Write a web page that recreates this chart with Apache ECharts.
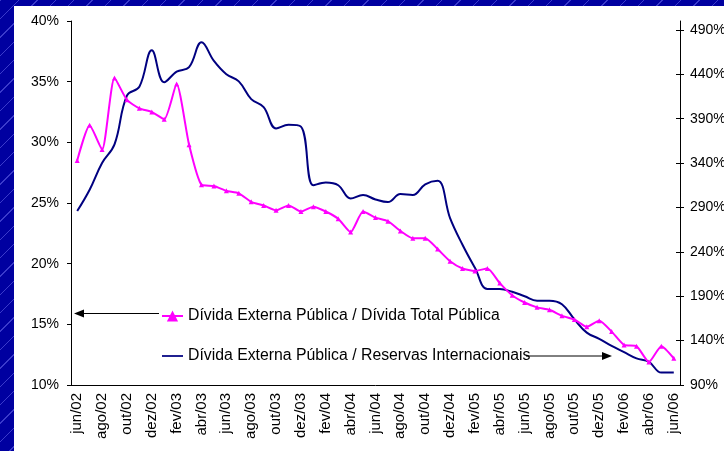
<!DOCTYPE html>
<html>
<head>
<meta charset="utf-8">
<script src="https://cdn.jsdelivr.net/npm/echarts@6/dist/echarts.min.js"></script>
<style>
  html, body { margin: 0; padding: 0; }
  #chart {
    width: 724px;
    height: 451px;
    background-color: #0000a0;
    background-image: repeating-linear-gradient(135deg, rgba(130,130,255,0.45) 0px, rgba(130,130,255,0.45) 1px, transparent 1px, transparent 13px);
  }
</style>
</head>
<body>
<div id="chart"></div>
<script>
// meses (jun/02 a jun/06)
const categories = [
  'jun/02', 'jul/02', 'ago/02', 'set/02', 'out/02', 'nov/02', 'dez/02',
  'jan/03', 'fev/03', 'mar/03', 'abr/03', 'mai/03', 'jun/03', 'jul/03', 'ago/03', 'set/03', 'out/03', 'nov/03', 'dez/03',
  'jan/04', 'fev/04', 'mar/04', 'abr/04', 'mai/04', 'jun/04', 'jul/04', 'ago/04', 'set/04', 'out/04', 'nov/04', 'dez/04',
  'jan/05', 'fev/05', 'mar/05', 'abr/05', 'mai/05', 'jun/05', 'jul/05', 'ago/05', 'set/05', 'out/05', 'nov/05', 'dez/05',
  'jan/06', 'fev/06', 'mar/06', 'abr/06', 'mai/06', 'jun/06'
];

// Dívida Externa Pública / Dívida Total Pública (%), eixo esquerdo
const dividaTotal = [
  28.5, 31.4, 29.4, 35.3, 33.5, 32.8, 32.5,
  31.9, 34.8, 29.8, 26.5, 26.4, 26.0, 25.8, 25.1, 24.8, 24.4, 24.8, 24.3,
  24.7, 24.3, 23.7, 22.6, 24.3, 23.8, 23.5, 22.7, 22.1, 22.1, 21.2, 20.2,
  19.6, 19.4, 19.6, 18.4, 17.4, 16.8, 16.4, 16.2, 15.7, 15.4, 14.8, 15.3,
  14.4, 13.3, 13.2, 11.9, 13.2, 12.2
];

// Dívida Externa Pública / Reservas Internacionais (%), eixo direito
const reservas = [
  286, 310, 340, 361, 416, 426, 467,
  431, 443, 448, 476, 455, 440, 432, 412, 403, 379, 383, 381,
  315, 318, 315, 300, 304, 299, 296, 305, 304, 316, 320, 278,
  248, 222, 198, 198, 195, 190, 185, 185, 181, 164, 149, 142,
  134, 127, 120, 116, 104, 104
];

const rightTicks = [90, 140, 190, 240, 290, 340, 390, 440, 490];

const chart = echarts.init(document.getElementById('chart'), null, { renderer: 'canvas' });

const font = 'Arial, "Liberation Sans", sans-serif';
const nomeTotal = 'Dívida Externa Pública / Dívida Total Pública';
const nomeReservas = 'Dívida Externa Pública / Reservas Internacionais';

const option = {
  backgroundColor: 'transparent',
  animation: false,
  textStyle: { fontFamily: font },
  grid: {
    left: 71,
    right: 44,
    top: 21,
    bottom: 66,
    containLabel: false,
    outerBoundsMode: 'none'
  },
  legend: {
    orient: 'vertical',
    left: 161,
    top: 308,
    padding: 0,
    itemWidth: 21,
    itemHeight: 14,
    itemGap: 24,
    textStyle: { fontSize: 15.8, color: '#000', fontFamily: font },
    data: [
      { name: nomeTotal },
      { name: nomeReservas, icon: 'path://M0,0H24V2H0Z' }
    ]
  },
  graphic: [
    {
      type: 'rect',
      z: -10,
      silent: true,
      shape: { x: 14, y: 6, width: 710, height: 445 },
      style: { fill: '#fff' }
    },
    {
      type: 'line',
      silent: true,
      shape: { x1: 80, y1: 313.5, x2: 159, y2: 313.5 },
      style: { stroke: '#000', lineWidth: 1 }
    },
    {
      type: 'polygon',
      silent: true,
      shape: { points: [[74, 313.5], [84, 309.5], [84, 317.5]] },
      style: { fill: '#000' }
    },
    {
      type: 'line',
      silent: true,
      shape: { x1: 526, y1: 356, x2: 606, y2: 356 },
      style: { stroke: '#000', lineWidth: 1 }
    },
    {
      type: 'polygon',
      silent: true,
      shape: { points: [[612, 356], [602, 352], [602, 360]] },
      style: { fill: '#000' }
    }
  ],
  xAxis: {
    type: 'category',
    data: categories,
    boundaryGap: true,
    axisLine: { lineStyle: { color: '#000', width: 1 } },
    axisTick: { interval: 1, length: 5, lineStyle: { color: '#000' } },
    axisLabel: {
      interval: 1,
      rotate: 90,
      margin: 8,
      fontSize: 15,
      color: '#000',
      fontFamily: font
    },
    splitLine: { show: false }
  },
  yAxis: [
    {
      type: 'value',
      position: 'left',
      min: 10,
      max: 40,
      interval: 5,
      axisLine: { show: true, lineStyle: { color: '#000' } },
      axisTick: { show: true, length: 4, lineStyle: { color: '#000' } },
      axisLabel: { formatter: '{value}%', fontSize: 14, color: '#000', margin: 12, fontFamily: font },
      splitLine: { show: false }
    },
    {
      type: 'value',
      position: 'right',
      min: 90,
      max: 500,
      axisLine: { show: true, lineStyle: { color: '#000' } },
      axisTick: { show: true, length: 4, customValues: rightTicks, lineStyle: { color: '#000' } },
      axisLabel: { customValues: rightTicks, formatter: '{value}%', fontSize: 14, color: '#000', margin: 10, fontFamily: font },
      splitLine: { show: false }
    },
    {
      // marcas internas do eixo direito (cruzadas)
      type: 'value',
      position: 'right',
      min: 90,
      max: 500,
      axisLine: { show: false },
      axisTick: { show: true, inside: true, length: 4, customValues: rightTicks, lineStyle: { color: '#000' } },
      axisLabel: { show: false },
      splitLine: { show: false }
    }
  ],
  series: [
    {
      name: nomeTotal,
      type: 'line',
      yAxisIndex: 0,
      data: dividaTotal,
      smooth: 0.2,
      symbol: 'triangle',
      symbolSize: 5,
      z: 3,
      itemStyle: { color: '#ff00ff' },
      lineStyle: { color: '#ff00ff', width: 2 }
    },
    {
      name: nomeReservas,
      type: 'line',
      yAxisIndex: 1,
      data: reservas,
      smooth: 0.4,
      symbol: 'none',
      z: 2,
      itemStyle: { color: '#000080' },
      lineStyle: { color: '#000080', width: 2 }
    }
  ]
};

chart.setOption(option);
</script>
</body>
</html>
